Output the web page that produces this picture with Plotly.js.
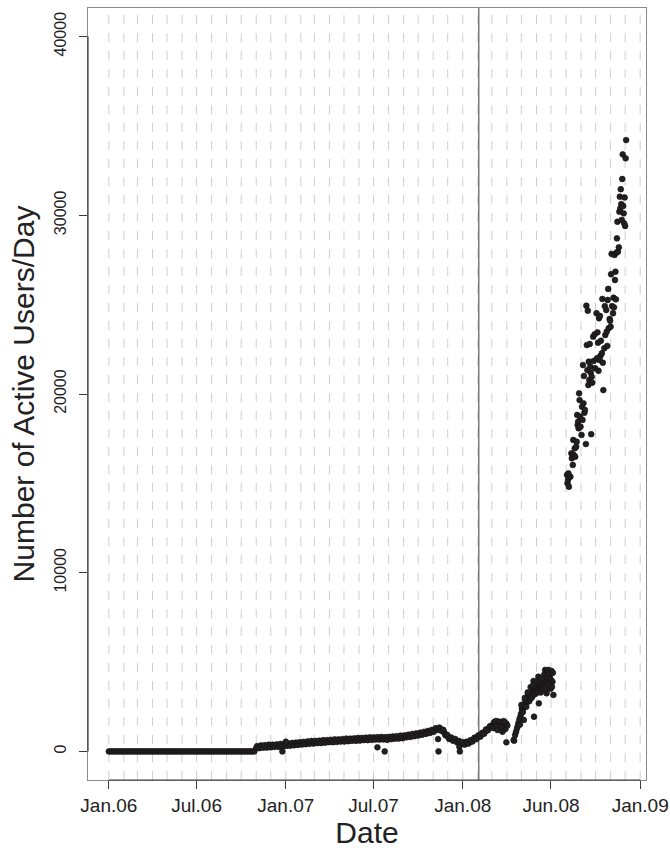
<!DOCTYPE html>
<html><head><meta charset="utf-8">
<script src="https://cdn.plot.ly/plotly-3.0.1.min.js"></script>
<style>body{margin:0;background:#fff}#chart{width:670px;height:851px}</style>
</head><body><div id="chart"></div>
<script>
// Day offsets are counted from 2006-01-01.
const baseYear = 2006;

// Regularly sampled part (every 4 days from day 0 to day 820)
const stepStart = 0;
const stepDays = 4;
const stepUsers = [
  0,0,0,0,0,0,0,0,0,0,0,0,0,0,0,0,0,0,0,
  0,0,0,0,0,0,0,0,0,0,0,0,0,0,0,0,0,0,0,
  0,0,0,0,0,0,0,0,0,0,0,0,0,0,0,0,0,0,0,
  0,0,0,0,0,0,0,0,0,0,0,0,0,0,0,0,0,0,0,
  200,230,250,260,280,260,290,300,280,310,
  320,300,330,340,320,350,380,360,400,390,
  420,410,440,430,460,450,480,470,500,510,
  490,520,530,510,540,560,540,570,580,560,
  590,600,580,610,620,600,630,640,620,650,
  660,640,670,680,660,690,700,680,700,720,
  700,720,730,710,740,720,740,700,720,750,
  740,770,780,760,800,810,790,840,860,850,
  890,900,920,940,960,980,1000,1030,1050,1080,
  1100,1140,1180,1250,1280,1230,1200,1050,900,800,
  720,680,640,600,540,480,450,430,450,480,
  520,580,650,720,780,850,920,1000,1100,1200,
  1290,1380,1480,1550,1580,1620,1500,1580,1450,1550
];

// In-between days (every 4 days from day 306 to day 818): the spread of the band
const midStart = 306;
const midUsers = [
  295,180,335,210,350,215,375,230,375,255,
  390,255,415,270,415,305,450,320,475,345,
  495,365,515,385,535,405,555,425,585,440,
  585,465,600,465,630,490,635,515,650,515,
  675,530,675,555,690,555,715,570,715,595,
  730,595,755,610,755,635,770,630,790,650,
  790,665,800,665,810,670,800,650,815,685,
  835,715,850,720,885,740,895,790,935,810,
  975,850,1010,890,1050,930,1095,980,1145,1030,
  1200,1100,1295,1205,1335,1155,1205,915,930,700,
  780,600,700,510,590,405,520,380,545,440,
  630,555,765,690,895,825,1040,990,1230,1185,
  1415,1370,1595,1505,1680,1500,1620,1455,1580
];

// Scattered points in the low part (outliers and plateau spread)
const lowExtraDays  = [358,365,554,569,679,680,723,724,796,794,798,800,802,806,810,812,814,816,818,820,822];
const lowExtraUsers = [0,540,230,0,690,0,260,0,1650,1300,1700,1400,1200,1650,1350,1100,1700,1650,1250,510,1450];

// Steep rise, April - July 2008
const riseDays = [835,836,838,840,842,844,845,847,849,850,852,853,855,856,857,859,860,862,863,865,866,868,869,871,873,874,876,877,878,880,881,883,884,886,887,888,890,892,894,896,897,899,900,902,903,904,905,907,908,910,911,913,914,916,917];
const riseUsers = [640,600,920,1100,1300,1450,1600,1800,1940,2100,2400,2300,2600,1760,2500,2880,2700,2970,2800,3100,3160,2900,3200,3300,3340,3100,3940,1940,3500,3530,3300,3620,3400,4180,2690,3720,3500,3800,3600,4000,3810,3700,4560,3900,3250,4460,4000,4560,3800,4280,3500,4500,3620,4400,3160];
const riseExtraDays  = [848,851,854,858,861,864,867,870,872,875,879,882,885,889,891,893,895,898,901,906,909,912,915];
const riseExtraUsers = [1500,2600,2200,3000,2500,3300,2800,3600,3000,3700,3200,3900,3300,4000,3300,4100,3500,4300,3500,4300,4100,4000,3900];

// High part, August - November 2008
const highDays = [945,946,947,948,949,952,954,955,957,958,959,961,962,964,965,966,967,968,969,970,971,972,973,975,976,977,978,979,980,981,982,984,985,986,987,988,989,990,991,992,993,994,995,996,997,999,1000,1002,1003,1006,1007,1008,1009,1010,1011,1012,1013,1014,1015,1017,1018,1019,1020,1022,1023,1024,1026,1027,1028,1029,1030,1031,1033,1034,1035,1036,1037,1038,1040,1041,1042,1043,1044,1045,1046,1047,1048,1049,1050,1052,1053,1054,1055,1056,1057,1058,1059,1060,1061,1062,1063,1064,1065,1066,1067];
const highUsers = [15470,15000,15190,15560,14810,15370,16680,16400,16030,17430,16590,16960,16490,17050,17330,18830,18270,18450,18080,20040,19660,18730,18170,17710,19290,18550,21620,19480,21010,18950,19110,17200,24940,22740,21340,24660,20500,21810,20780,22800,21530,21190,17750,20970,20630,23210,21850,23340,21440,24520,22000,23450,22870,21300,24240,21900,24370,22130,22980,22280,25320,21750,20220,22560,24920,23300,24700,23490,22690,25260,25880,23680,24200,24100,23770,26700,27840,24920,24520,25390,24850,27780,26380,26840,25300,27910,28710,29640,27960,28210,30200,31040,30390,31460,30630,29740,32030,33410,30520,30110,29550,31000,29400,33190,34210];

const tickDates  = ['2006-01-01','2006-07-01','2007-01-01','2007-07-01','2008-01-01','2008-07-01','2009-01-01'];
const tickLabels = ['Jan.06','Jul.06','Jan.07','Jul.07','Jan.08','Jun.08','Jan.09'];
const yTicks = [0,10000,20000,30000,40000];
const eventDate = '2008-02-03';

function dayToDate(d){
  const t = new Date(Date.UTC(baseYear,0,1) + d*86400000);
  return t.toISOString().slice(0,10);
}

const xs = [], ys = [];
stepUsers.forEach((v,i)=>{ xs.push(dayToDate(stepStart + i*stepDays)); ys.push(v); });
midUsers.forEach((v,i)=>{ xs.push(dayToDate(midStart + i*stepDays)); ys.push(v); });
lowExtraDays.forEach((d,i)=>{ xs.push(dayToDate(d)); ys.push(lowExtraUsers[i]); });
riseDays.forEach((d,i)=>{ xs.push(dayToDate(d)); ys.push(riseUsers[i]); });
riseExtraDays.forEach((d,i)=>{ xs.push(dayToDate(d)); ys.push(riseExtraUsers[i]); });
highDays.forEach((d,i)=>{ xs.push(dayToDate(d)); ys.push(highUsers[i]); });

const trace = {
  type:'scatter', mode:'markers', x:xs, y:ys,
  marker:{size:5.8, color:'#231f20', line:{width:0.6, color:'#111'}},
  hoverinfo:'skip'
};

// monthly dashed grid lines
const shapes = [];
for (let y=2006; y<=2009; y++){
  for (let m=1; m<=12; m++){
    if (y===2009 && m>1) break;
    const d = y + '-' + String(m).padStart(2,'0') + '-01';
    shapes.push({type:'line', xref:'x', yref:'paper', x0:d, x1:d, y0:0, y1:1,
      line:{color:'#cfcfcf', width:1, dash:'dash'}, layer:'below'});
  }
}
shapes.push({type:'line', xref:'x', yref:'paper', x0:eventDate, x1:eventDate, y0:0, y1:1,
  line:{color:'#7a7a7a', width:1.5}, layer:'below'});
// darker axis segments (tick range)
shapes.push({type:'line', xref:'x', yref:'paper', x0:tickDates[0], x1:tickDates[tickDates.length-1], y0:0, y1:0,
  line:{color:'#3a3a3a', width:1.2}});
shapes.push({type:'line', xref:'paper', yref:'y', x0:0, x1:0, y0:yTicks[0], y1:yTicks[yTicks.length-1],
  line:{color:'#3a3a3a', width:1.2}});

const layout = {
  width:670, height:851,
  margin:{l:88, r:24, t:8, b:71},
  paper_bgcolor:'#fff', plot_bgcolor:'#fff',
  showlegend:false,
  font:{family:'"Liberation Sans", Arial, sans-serif', color:'#222'},
  xaxis:{
    type:'date', range:['2005-11-19','2009-01-13'],
    tickmode:'array', tickvals:tickDates, ticktext:tickLabels,
    ticks:'outside', ticklen:8, tickwidth:1, tickcolor:'#3a3a3a',
    showgrid:false, zeroline:false,
    showline:true, mirror:true, linecolor:'#8a8a8a', linewidth:1,
    tickfont:{size:19, color:'#222'},
    title:{text:'Date', font:{size:30, color:'#222'}, standoff:4}
  },
  yaxis:{
    range:[-1600,41600],
    tickmode:'array', tickvals:yTicks, ticktext:yTicks.map(String),
    tickangle:-90, ticklabelstandoff:7,
    ticks:'outside', ticklen:8, tickwidth:1, tickcolor:'#3a3a3a',
    showgrid:false, zeroline:false,
    showline:true, mirror:true, linecolor:'#8a8a8a', linewidth:1,
    tickfont:{size:16, color:'#222'},
    title:{text:'Number of Active Users/Day', font:{size:30, color:'#222'}, standoff:8}
  },
  shapes:shapes
};

Plotly.newPlot('chart', [trace], layout, {displayModeBar:false, staticPlot:true});
</script>
</body></html>
